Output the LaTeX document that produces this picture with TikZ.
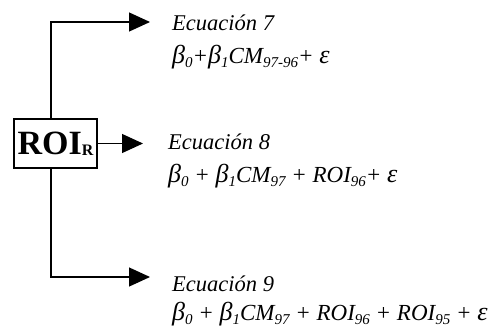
\documentclass[tikz,border=0pt]{standalone}
\usepackage{fontspec}
\setmainfont{Liberation Serif}
\usetikzlibrary{arrows.meta, positioning}
\newcommand{\subidx}[1]{\raisebox{-4pt}{\fontsize{15}{15}\selectfont #1}}
\newcommand{\boxidx}[1]{\raisebox{-1pt}{\fontsize{16}{16}\selectfont\bfseries #1}}
\newcommand{\grk}[1]{{\fontsize{26}{26}\selectfont #1}}
\tikzset{
  roibox/.style={
    draw=black, line width=1.2pt, minimum width=83pt,
    minimum height=49pt, inner sep=0pt,
    font=\fontsize{34}{34}\selectfont\bfseries
  },
  eqtitle/.style={
    anchor=base west, inner sep=0pt,
    font=\fontsize{22.5}{26}\selectfont\itshape
  },
  eqbody/.style={
    anchor=base west, inner sep=0pt,
    font=\fontsize{23}{26}\selectfont\itshape
  },
  branch/.style={
    -{Triangle[length=21pt,width=19pt]},
    draw=black, line width=1.2pt
  },
}
\begin{document}
\begin{tikzpicture}[x=1pt, y=-1pt]
  \useasboundingbox (0,0) rectangle (500,327);

  %% Root box
  \node[roibox] (roi) at (55.5,143.5) {ROI\boxidx{R}};

  %% Equations
  \node[eqtitle] (eq7) at (172,30) {Ecuación 7};
  \node[eqbody, below=33pt of eq7.base west, anchor=base west] (eq7b)
    {\grk{β}\subidx{0}+\grk{β}\subidx{1}CM\subidx{97-96}+ \grk{ε}};
  \node[eqtitle] (eq8) at (168,149) {Ecuación 8};
  \node[eqbody, below=33pt of eq8.base west, anchor=base west] (eq8b)
    {\grk{β}\subidx{0} + \grk{β}\subidx{1}CM\subidx{97} + ROI\subidx{96}+ \grk{ε}};
  \node[eqtitle] (eq9) at (172,291) {Ecuación 9};
  \node[eqbody, below=29pt of eq9.base west, anchor=base west] (eq9b)
    {\grk{β}\subidx{0} + \grk{β}\subidx{1}CM\subidx{97} + ROI\subidx{96} + ROI\subidx{95} + \grk{ε}};

  %% Branch corners
  \coordinate (top) at (51,22);
  \coordinate (bot) at (51,277);

  %% Connectors
  \draw[branch, shorten >=22pt] (roi.north -| top) -- (top) -- (top -| eq7.west);
  \draw[branch, shorten >=25pt] (roi.east) -- (roi.east -| eq8.west);
  \draw[branch, shorten >=22pt] (roi.south -| bot) -- (bot) -- (bot -| eq9.west);

\end{tikzpicture}
\end{document}
